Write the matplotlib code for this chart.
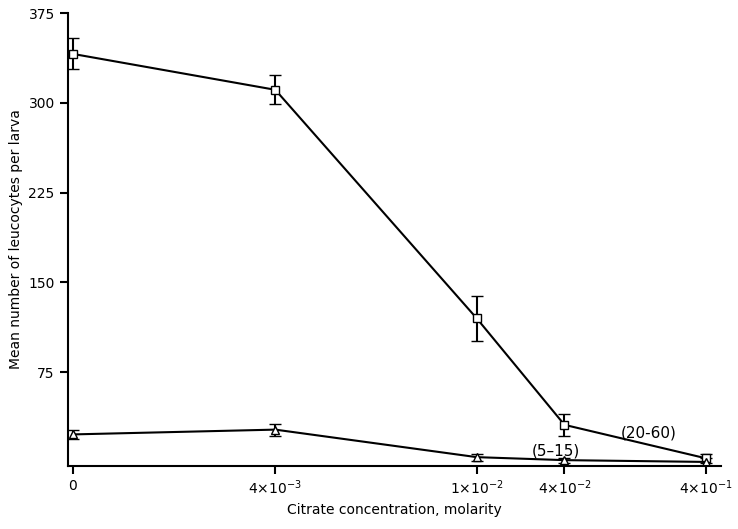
import matplotlib.pyplot as plt

# x konumları (eksen üzerinde, orijinal çizime göre)
x_pos = [0, 203, 405, 493, 635]
x_labels = ["0", r"4$\times$10$^{-3}$", r"1$\times$10$^{-2}$", r"4$\times$10$^{-2}$", r"4$\times$10$^{-1}$"]

kare = [341, 311, 120, 31, 3]
kare_err = [13, 12, 19, 9, 4]
ucgen = [23, 27, 4, 1.5, 0]
ucgen_err = [4, 5, 3, 2, 3]

fig = plt.figure(figsize=(7.38, 5.29), dpi=100)
ax = fig.add_axes([0.092, 0.12, 0.885, 0.855])

ax.errorbar(x_pos, kare, yerr=kare_err, color="black", marker="s", mfc="white",
            mec="black", ms=6, lw=1.5, capsize=4, elinewidth=1.5)
ax.errorbar(x_pos, ucgen, yerr=ucgen_err, color="black", marker="^", mfc="white",
            mec="black", ms=6, lw=1.5, capsize=4, elinewidth=1.5)

ax.text(577, 24, "(20-60)", fontsize=11, ha="center", va="center")
ax.text(484, 9, "(5–15)", fontsize=11, ha="center", va="center")

ax.set_xlim(-5, 650)
ax.set_ylim(-3, 375)
ax.set_xticks(x_pos)
ax.set_xticklabels(x_labels, fontsize=10)
ax.set_yticks([75, 150, 225, 300, 375])
ax.set_yticklabels(["75", "150", "225", "300", "375"], fontsize=10)
ax.spines["top"].set_visible(False)
ax.spines["right"].set_visible(False)
ax.spines["left"].set_linewidth(1.5)
ax.spines["bottom"].set_linewidth(1.5)
ax.tick_params(direction="out", length=6, width=1.5)
ax.set_xlabel("Citrate concentration, molarity", fontsize=10)
ax.set_ylabel("Mean number of leucocytes per larva", fontsize=10)

fig.savefig("out.png", dpi=100)
